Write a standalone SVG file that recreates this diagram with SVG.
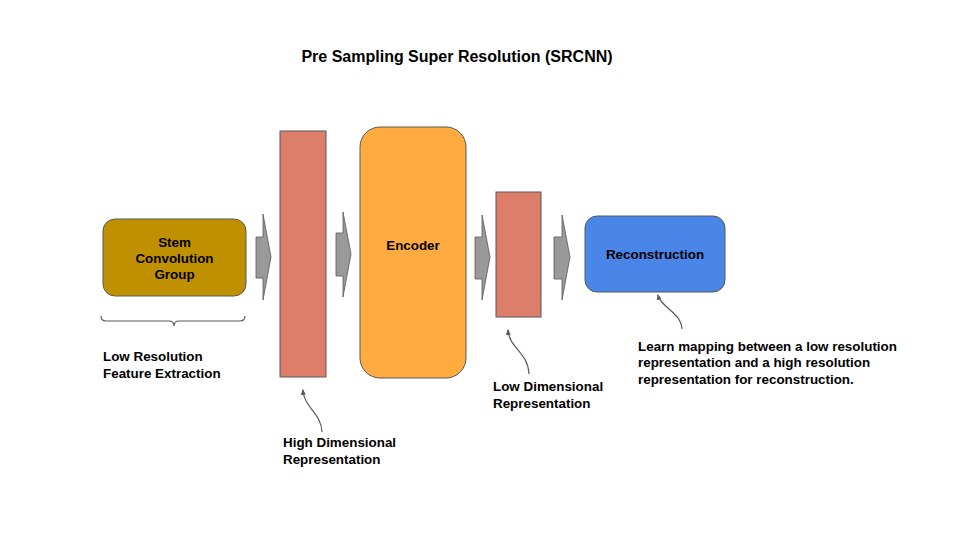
<svg xmlns="http://www.w3.org/2000/svg" width="960" height="540" viewBox="0 0 960 540">
<style>
text{font-family:"Liberation Sans",Arial,sans-serif;font-weight:bold;fill:#000}
.t{font-size:13.4px}
.c{text-anchor:middle}
.box{stroke:#595959;stroke-width:1}
.arr{fill:#999999;stroke:#595959;stroke-width:0.8}
.lead{fill:none;stroke:#595959;stroke-width:1.2}
</style>
<defs>
<marker id="ah" viewBox="0 0 10 10" refX="8" refY="5" markerWidth="5" markerHeight="5" orient="auto">
<path d="M0,1 L10,5 L0,9 Z" fill="#595959"/>
</marker>
</defs>
<rect width="960" height="540" fill="#ffffff"/>
<text x="457" y="62" class="c" style="font-size:16px">Pre Sampling Super Resolution (SRCNN)</text>

<g id="stem">
<rect class="box" x="103" y="219" width="143" height="77" rx="12" fill="#bf9000"/>
<text class="t c" x="174.5" y="247">Stem</text>
<text class="t c" x="174.5" y="263">Convolution</text>
<text class="t c" x="174.5" y="279">Group</text>
</g>
<g id="high-dim">
<rect class="box" x="280" y="131" width="46" height="246" fill="#dd7e6b"/>
</g>
<g id="encoder">
<rect class="box" x="360" y="127" width="106" height="251" rx="20" fill="#ffab40"/>
<text class="t c" x="413" y="250">Encoder</text>
</g>
<g id="low-dim">
<rect class="box" x="496" y="192" width="45" height="125" fill="#dd7e6b"/>
</g>
<g id="reconstruction">
<rect class="box" x="585" y="216" width="140" height="76" rx="12" fill="#4a86e8"/>
<text class="t c" x="655" y="259">Reconstruction</text>
</g>

<g id="connectors">
<path class="arr" d="M256,237 L263,237 L263,214 L271,257 L263,300 L263,278 L256,278 Z"/>
<path class="arr" d="M336,233 L343,233 L343,212 L351,254 L343,297 L343,276 L336,276 Z"/>
<path class="arr" d="M475,237 L482,237 L482,215 L490,257 L482,300 L482,279 L475,279 Z"/>
<path class="arr" d="M554,237 L562,237 L562,215 L570,257 L562,300 L562,279 L554,279 Z"/>
<path class="lead" d="M101,316 Q101,321 106,321 L169,321 Q174,321 174,326 Q174,321 179,321 L240,321 Q245,321 245,316"/>
<path class="lead" marker-end="url(#ah)" d="M322,432 C321,412 304,408 303,390"/>
<path class="lead" marker-end="url(#ah)" d="M529,374 C528,352 509,348 508,330"/>
<path class="lead" marker-end="url(#ah)" d="M682,329 C681,312 661,308 658,295"/>
</g>

<g id="labels">
<text class="t" x="103" y="361">Low Resolution</text>
<text class="t" x="103" y="378">Feature Extraction</text>
<text class="t" x="283" y="447">High Dimensional</text>
<text class="t" x="283" y="464">Representation</text>
<text class="t" x="493" y="391">Low Dimensional</text>
<text class="t" x="493" y="408">Representation</text>
<text class="t" x="638" y="351">Learn mapping between a low resolution</text>
<text class="t" x="638" y="367">representation and a high resolution</text>
<text class="t" x="638" y="384">representation for reconstruction.</text>
</g>
</svg>
